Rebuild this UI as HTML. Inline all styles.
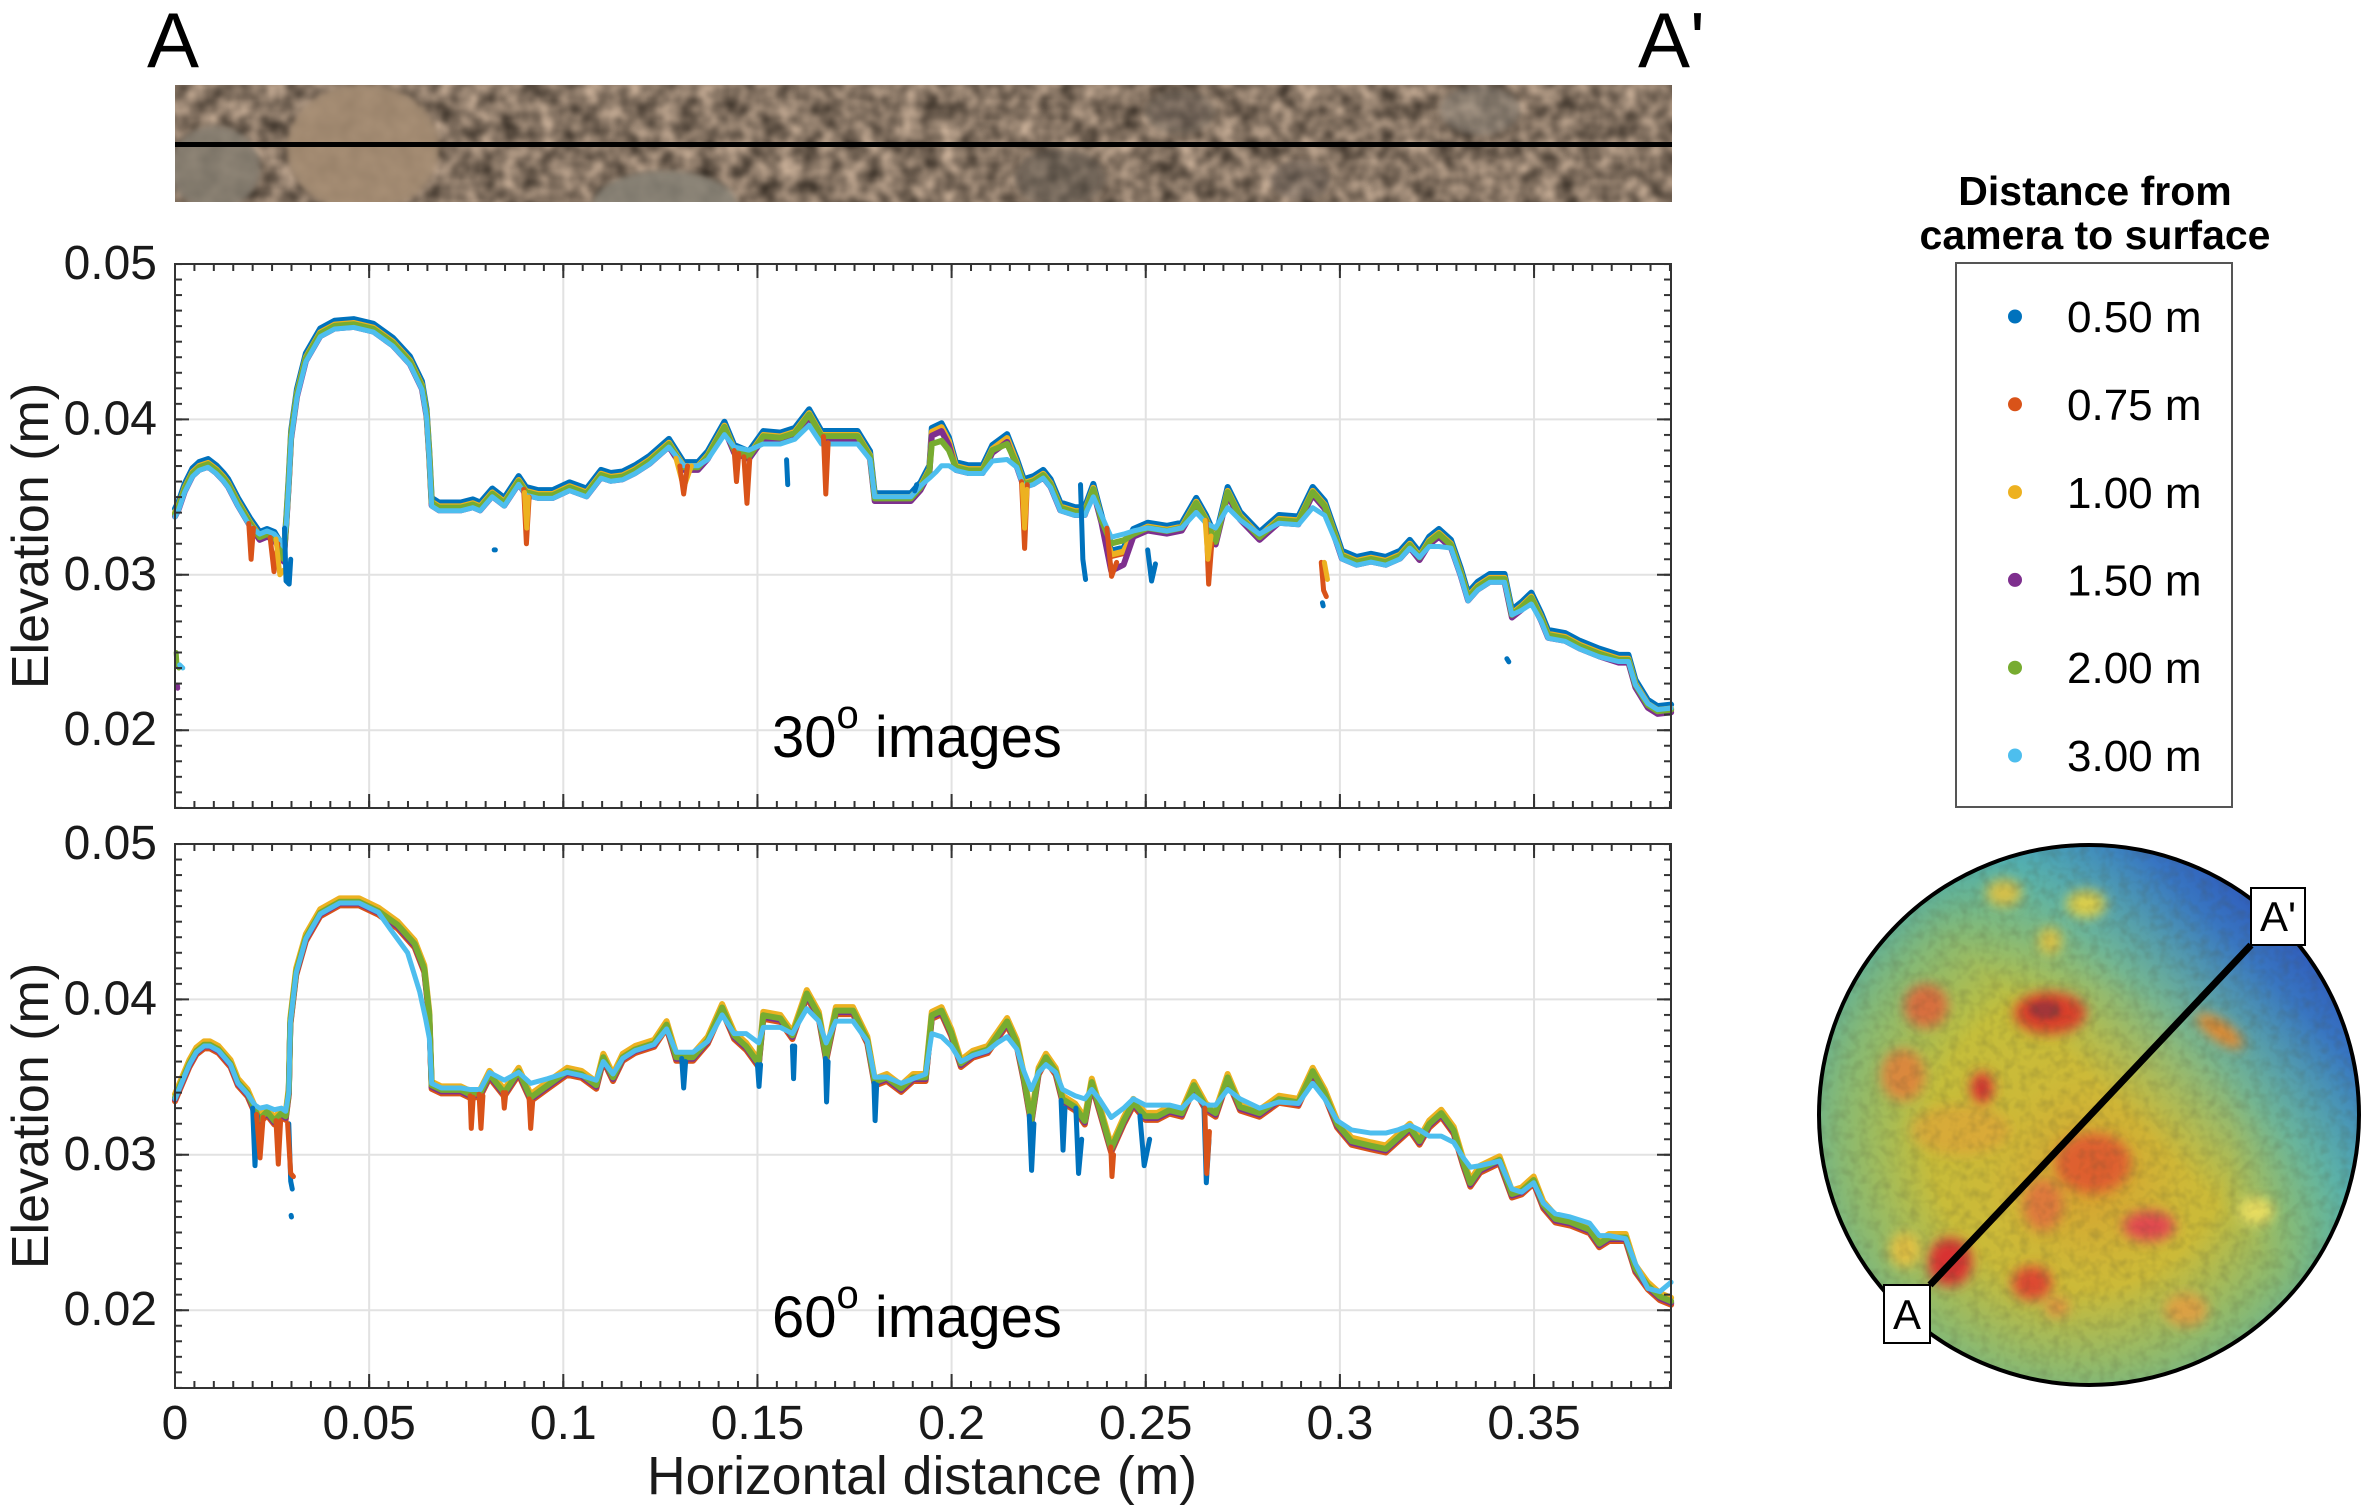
<!DOCTYPE html>
<html><head><meta charset="utf-8"><style>
html,body{margin:0;padding:0;background:#fff;}
body{width:2372px;height:1510px;overflow:hidden;}
svg{display:block;font-family:"Liberation Sans",Arial,sans-serif;}
</style></head><body>
<svg width="2372" height="1510" viewBox="0 0 2372 1510" xmlns="http://www.w3.org/2000/svg">
<defs>
<filter id="pebf" x="0%" y="0%" width="100%" height="100%" color-interpolation-filters="sRGB">
<feTurbulence type="fractalNoise" baseFrequency="0.05" numOctaves="2" seed="7"/>
<feColorMatrix type="matrix" values="0.7 0 0 0 0.17  0.62 0 0 0 0.14  0.55 0 0 0 0.11  0 0 0 0 1"/>
</filter>
<filter id="grain" x="0%" y="0%" width="100%" height="100%" color-interpolation-filters="sRGB">
<feTurbulence type="fractalNoise" baseFrequency="0.1" numOctaves="2" seed="3"/>
<feColorMatrix type="matrix" values="0 0 0 0 0.3  0 0 0 0 0.3  0 0 0 0 0.2  1.2 0 0 0 -0.5"/>
</filter>
<filter id="bl" x="-50%" y="-50%" width="200%" height="200%"><feGaussianBlur stdDeviation="6"/></filter>
<filter id="bl2" x="-50%" y="-50%" width="200%" height="200%"><feGaussianBlur stdDeviation="3"/></filter>
<pattern id="px" x="174" y="0" width="19.415" height="10" patternUnits="userSpaceOnUse"><rect width="2" height="10" fill="#333"/></pattern>
<pattern id="py1" x="0" y="263" width="10" height="15.54" patternUnits="userSpaceOnUse"><rect width="10" height="2" fill="#333"/></pattern>
<pattern id="py2" x="0" y="843" width="10" height="15.54" patternUnits="userSpaceOnUse"><rect width="10" height="2" fill="#333"/></pattern>
<clipPath id="stripc"><rect x="175" y="85" width="1497" height="117"/></clipPath>
<clipPath id="cc"><circle cx="2089" cy="1115" r="270"/></clipPath>
<linearGradient id="gBlue" gradientUnits="userSpaceOnUse" x1="2340" y1="880" x2="2060" y2="1160">
<stop offset="0" stop-color="#2636b0" stop-opacity="1"/>
<stop offset="0.3" stop-color="#3572c4" stop-opacity="0.95"/>
<stop offset="0.55" stop-color="#4ab0c0" stop-opacity="0.6"/>
<stop offset="0.8" stop-color="#60c0a0" stop-opacity="0"/>
</linearGradient>
<radialGradient id="gEdge" gradientUnits="userSpaceOnUse" cx="2080" cy="1140" r="300">
<stop offset="0.5" stop-color="#58b4a0" stop-opacity="0"/>
<stop offset="0.8" stop-color="#58b4a0" stop-opacity="0.55"/>
<stop offset="1" stop-color="#3fa7b5" stop-opacity="0.85"/>
</radialGradient>
<radialGradient id="gCore" gradientUnits="userSpaceOnUse" cx="2090" cy="1180" r="210">
<stop offset="0" stop-color="#e0902a" stop-opacity="0.7"/>
<stop offset="0.5" stop-color="#e0b030" stop-opacity="0.35"/>
<stop offset="1" stop-color="#e0b030" stop-opacity="0"/>
</radialGradient>
</defs>

<rect width="2372" height="1510" fill="#fff"/>

<text x="147" y="67" font-size="78" fill="#000">A</text>
<text x="1638" y="67" font-size="78" fill="#000">A'</text>

<!-- Photo strip -->
<g clip-path="url(#stripc)">
<rect x="175" y="85" width="1497" height="117" fill="#826e5c" filter="url(#pebf)"/>
<g filter="url(#bl2)">
<ellipse cx="215" cy="168" rx="45" ry="42" fill="#857e72" opacity="0.85"/>
<ellipse cx="363" cy="148" rx="76" ry="64" fill="#a48c72" opacity="0.9"/>
<ellipse cx="665" cy="205" rx="72" ry="34" fill="#878277" opacity="0.85"/>
<ellipse cx="1060" cy="178" rx="45" ry="30" fill="#5a524a" opacity="0.5"/>
<ellipse cx="1180" cy="112" rx="35" ry="22" fill="#5f5850" opacity="0.45"/>
<ellipse cx="1480" cy="110" rx="40" ry="25" fill="#868075" opacity="0.5"/>
<ellipse cx="1300" cy="180" rx="30" ry="20" fill="#5d554d" opacity="0.4"/>
</g>
</g>
<line x1="175" y1="144.5" x2="1672" y2="144.5" stroke="#000" stroke-width="5"/>

<!-- ===== TOP PLOT ===== -->
<g stroke="#e2e2e2" stroke-width="2">
<line x1="369.15" y1="264" x2="369.15" y2="808"/><line x1="563.3" y1="264" x2="563.3" y2="808"/>
<line x1="757.45" y1="264" x2="757.45" y2="808"/><line x1="951.6" y1="264" x2="951.6" y2="808"/>
<line x1="1145.75" y1="264" x2="1145.75" y2="808"/><line x1="1339.9" y1="264" x2="1339.9" y2="808"/>
<line x1="1534.05" y1="264" x2="1534.05" y2="808"/>
<line x1="175" y1="419.4" x2="1671" y2="419.4"/><line x1="175" y1="574.8" x2="1671" y2="574.8"/>
<line x1="175" y1="730.2" x2="1671" y2="730.2"/>
</g>

<g transform="translate(175,1041) scale(3.883,-15.54)" fill="none" stroke-linejoin="round" stroke-linecap="round">
<g transform="translate(0,0.35)"><polyline vector-effect="non-scaling-stroke" stroke-width="6" stroke="#0072BD" points="0,33.9 1,34.4 2.5,35.5 4.5,36.5 6.2,36.9 8.5,37.1 10.6,36.7 12.5,36.2 13.7,35.8 16.2,34.6 19.3,33.3 21.8,32.4 23.7,32.6 25.6,32.4 27,31.8 28,31 28.7,33.5 29.3,36 29.9,38.9 31.4,41.6 33.7,43.9 37.4,45.5 41.1,46 46.1,46.1 51.1,45.8 56.1,44.9 60.5,43.7 63.6,42.1 64.8,40.3 65.5,37.6 66.1,34.6 68,34.3 73.6,34.3 76.7,34.5 78.6,34.3 81.7,35.2 84.8,34.6 88.5,36 90.4,35.3 93.5,35.1 97.3,35.1 101.6,35.6 106,35.2 109.7,36.4 112.2,36.2 115.3,36.3 118.5,36.7 122.2,37.3 127.2,38.4 131,36.9 134.7,36.9 137.2,37.6 141.5,39.5 144,38 147.8,37.6 151.5,38.9 155.9,38.8 159.6,39.1 163.3,40.3 166.5,38.9 170.8,38.9 175.8,38.9 179,37.6 180.2,34.9 185.8,34.9 189.5,34.9 192,35.6 194.3,36.7 194.9,39.1 197.4,39.4 199.3,38.5 201.1,36.9 204.3,36.7 208,36.7 210.5,38 214.3,38.7 216.8,37.1 218.6,35.8 221.1,36 223.6,36.4 225.5,35.8 228,34.3 231.8,34 234.3,34 236.5,35.5 238.6,33.5 241.1,31.2 244.3,31.4 246.8,32.6 250.5,33 255.5,32.8 259.3,33 263,34.6 265.5,33.5 268,32.1 271.1,35.3 274.3,33.7 279.3,32.4 284.3,33.5 289.3,33.4 293,35.3 296.1,34.4 299.3,32.1 300.5,31.2 304.3,30.8 308,31 311.8,30.8 315.5,31.2 318,31.9 320.5,31.1 323,32.1 325.5,32.6 328.6,31.9 331.1,30.1 333,28.5 335.5,29.2 338.6,29.7 342.4,29.7 344.3,27.4 346.8,27.9 349.3,28.5 351.8,27.2 353.6,26.1 358,25.9 361.8,25.4 366.8,24.9 371.8,24.5 374.3,24.5 376.1,22.9 379.3,21.6 381.8,21.2 385.3,21.3"/></g>
<g transform="translate(0,0)"><polyline vector-effect="non-scaling-stroke" stroke-width="6" stroke="#D95319" points="0,33.9 1,34.4 2.5,35.5 4.5,36.5 6.2,36.9 8.5,37.1 10.6,36.7 12.5,36.2 13.7,35.8 16.2,34.6 19.3,33.3 21.8,32.4 23.7,32.6 25.6,32.4 27,31.8 28,31 28.7,33.5 29.3,36 29.9,38.9 31.4,41.6 33.7,43.9 37.4,45.5 41.1,46 46.1,46.1 51.1,45.8 56.1,44.9 60.5,43.7 63.6,42.1 64.8,40.3 65.5,37.6 66.1,34.6 68,34.3 73.6,34.3 76.7,34.5 78.6,34.3 81.7,35.2 84.8,34.6 88.5,36 90.4,35.3 93.5,35.1 97.3,35.1 101.6,35.6 106,35.2 109.7,36.4 112.2,36.2 115.3,36.3 118.5,36.7 122.2,37.3 127.2,38.4 131,36.9 134.7,36.9 137.2,37.6 141.5,39.5 144,38 147.8,37.6 151.5,38.9 155.9,38.8 159.6,39.1 163.3,40.3 166.5,38.9 170.8,38.9 175.8,38.9 179,37.6 180.2,34.9 185.8,34.9 189.5,34.9 192,35.6 194.3,36.7 194.9,39.1 197.4,39.4 199.3,38.5 201.1,36.9 204.3,36.7 208,36.7 210.5,38 214.3,38.7 216.8,37.1 218.6,35.8 221.1,36 223.6,36.4 225.5,35.8 228,34.3 231.8,34 234.3,34 236.5,35.5 238.6,33.5 241.1,31.2 244.3,31.4 246.8,32.6 250.5,33 255.5,32.8 259.3,33 263,34.6 265.5,33.5 268,32.1 271.1,35.3 274.3,33.7 279.3,32.4 284.3,33.5 289.3,33.4 293,35.3 296.1,34.4 299.3,32.1 300.5,31.2 304.3,30.8 308,31 311.8,30.8 315.5,31.2 318,31.9 320.5,31.1 323,32.1 325.5,32.6 328.6,31.9 331.1,30.1 333,28.5 335.5,29.2 338.6,29.7 342.4,29.7 344.3,27.4 346.8,27.9 349.3,28.5 351.8,27.2 353.6,26.1 358,25.9 361.8,25.4 366.8,24.9 371.8,24.5 374.3,24.5 376.1,22.9 379.3,21.6 381.8,21.2 385.3,21.3"/></g>
<g transform="translate(0,0.1)"><polyline vector-effect="non-scaling-stroke" stroke-width="6" stroke="#EDB120" points="0,33.9 1,34.4 2.5,35.5 4.5,36.5 6.2,36.9 8.5,37.1 10.6,36.7 12.5,36.2 13.7,35.8 16.2,34.6 19.3,33.3 21.8,32.4 23.7,32.6 25.6,32.4 27,31.8 28,31 28.7,33.5 29.3,36 29.9,38.9 31.4,41.6 33.7,43.9 37.4,45.5 41.1,46 46.1,46.1 51.1,45.8 56.1,44.9 60.5,43.7 63.6,42.1 64.8,40.3 65.5,37.6 66.1,34.6 68,34.3 73.6,34.3 76.7,34.5 78.6,34.3 81.7,35.2 84.8,34.6 88.5,36 90.4,35.3 93.5,35.1 97.3,35.1 101.6,35.6 106,35.2 109.7,36.4 112.2,36.2 115.3,36.3 118.5,36.7 122.2,37.3 127.2,38.4 131,36.9 134.7,36.9 137.2,37.6 141.5,39.5 144,38 147.8,37.6 151.5,38.9 155.9,38.8 159.6,39.1 163.3,40.3 166.5,38.9 170.8,38.9 175.8,38.9 179,37.6 180.2,34.9 185.8,34.9 189.5,34.9 192,35.6 194.3,36.7 194.9,39.1 197.4,39.4 199.3,38.5 201.1,36.9 204.3,36.7 208,36.7 210.5,38 214.3,38.7 216.8,37.1 218.6,35.8 221.1,36 223.6,36.4 225.5,35.8 228,34.3 231.8,34 234.3,34 236.5,35.5 238.6,33.5 241.1,31.2 244.3,31.4 246.8,32.6 250.5,33 255.5,32.8 259.3,33 263,34.6 265.5,33.5 268,32.1 271.1,35.3 274.3,33.7 279.3,32.4 284.3,33.5 289.3,33.4 293,35.3 296.1,34.4 299.3,32.1 300.5,31.2 304.3,30.8 308,31 311.8,30.8 315.5,31.2 318,31.9 320.5,31.1 323,32.1 325.5,32.6 328.6,31.9 331.1,30.1 333,28.5 335.5,29.2 338.6,29.7 342.4,29.7 344.3,27.4 346.8,27.9 349.3,28.5 351.8,27.2 353.6,26.1 358,25.9 361.8,25.4 366.8,24.9 371.8,24.5 374.3,24.5 376.1,22.9 379.3,21.6 381.8,21.2 385.3,21.3"/></g>
<g transform="translate(0,-0.15)"><polyline vector-effect="non-scaling-stroke" stroke-width="6" stroke="#7E2F8E" points="0,33.9 1,34.4 2.5,35.5 4.5,36.5 6.2,36.9 8.5,37.1 10.6,36.7 12.5,36.2 13.7,35.8 16.2,34.6 19.3,33.3 21.8,32.4 23.7,32.6 25.6,32.4 27,31.8 28,31 28.7,33.5 29.3,36 29.9,38.9 31.4,41.6 33.7,43.9 37.4,45.5 41.1,46 46.1,46.1 51.1,45.8 56.1,44.9 60.5,43.7 63.6,42.1 64.8,40.3 65.5,37.6 66.1,34.6 68,34.3 73.6,34.3 76.7,34.5 78.6,34.3 81.7,35.2 84.8,34.6 88.5,36 90.4,35.3 93.5,35.1 97.3,35.1 101.6,35.6 106,35.2 109.7,36.4 112.2,36.2 115.3,36.3 118.5,36.7 122.2,37.3 127.2,38.4 131,36.9 134.7,36.9 137.2,37.6 141.5,39.5 144,38 147.8,37.6 151.5,38.9 155.9,38.8 159.6,39.1 163.3,40.3 166.5,38.9 170.8,38.9 175.8,38.9 179,37.6 180.2,34.9 185.8,34.9 189.5,34.9 192,35.6 194.3,36.7 194.9,39.1 197.4,39.4 199.3,38.5 201.1,36.9 204.3,36.7 208,36.7 210.5,38 214.3,38.7 216.8,37.1 218.6,35.8 221.1,36 223.6,36.4 225.5,35.8 228,34.3 231.8,34 234.3,34 236.5,35.5 238.6,33.5 241.1,30.4 244.3,30.8 246.8,32.6 250.5,33 255.5,32.8 259.3,33 263,34.6 265.5,33.5 268,32.1 271.1,35.3 274.3,33.7 279.3,32.4 284.3,33.5 289.3,33.4 293,35.3 296.1,34.4 299.3,32.1 300.5,31.2 304.3,30.8 308,31 311.8,30.8 315.5,31.2 318,31.9 320.5,31.1 323,32.1 325.5,32.6 328.6,31.9 331.1,30.1 333,28.5 335.5,29.2 338.6,29.7 342.4,29.7 344.3,27.4 346.8,27.9 349.3,28.5 351.8,27.2 353.6,26.1 358,25.9 361.8,25.4 366.8,24.9 371.8,24.5 374.3,24.5 376.1,22.9 379.3,21.6 381.8,21.2 385.3,21.3"/></g>
<g transform="translate(0,0.02)"><polyline vector-effect="non-scaling-stroke" stroke-width="6" stroke="#77AC30" points="0,33.9 1,34.4 2.5,35.5 4.5,36.5 6.2,36.9 8.5,37.1 10.6,36.7 12.5,36.2 13.7,35.8 16.2,34.6 19.3,33.3 21.8,32.4 23.7,32.6 25.6,32.4 27,31.8 28,31 28.7,33.5 29.3,36 29.9,38.9 31.4,41.6 33.7,43.9 37.4,45.5 41.1,46 46.1,46.1 51.1,45.8 56.1,44.9 60.5,43.7 63.6,42.1 64.8,40.3 65.5,37.6 66.1,34.6 68,34.3 73.6,34.3 76.7,34.5 78.6,34.3 81.7,35.2 84.8,34.6 88.5,36 90.4,35.3 93.5,35.1 97.3,35.1 101.6,35.6 106,35.2 109.7,36.4 112.2,36.2 115.3,36.3 118.5,36.7 122.2,37.3 127.2,38.4 131,36.9 134.7,36.9 137.2,37.6 141.5,39.5 144,38 147.8,37.6 151.5,38.9 155.9,38.8 159.6,39.1 163.3,40.3 166.5,38.9 170.8,38.9 175.8,38.9 179,37.6 180.2,34.9 185.8,34.9 189.5,34.9 192,35.6 194.3,36.7 194.9,38.4 197.4,38.6 199.3,38 201.1,36.9 204.3,36.7 208,36.7 210.5,38 214.3,38.4 216.8,37.1 218.6,35.8 221.1,36 223.6,36.4 225.5,35.8 228,34.3 231.8,34 234.3,34 236.5,35.5 238.6,33.5 241.1,32 244.3,32.2 246.8,32.6 250.5,33 255.5,32.8 259.3,33 263,34.6 265.5,33.5 268,32.1 271.1,35.3 274.3,33.7 279.3,32.4 284.3,33.5 289.3,33.4 293,35.3 296.1,34.4 299.3,32.1 300.5,31.2 304.3,30.8 308,31 311.8,30.8 315.5,31.2 318,31.9 320.5,31.1 323,32.1 325.5,32.6 328.6,31.9 331.1,30.1 333,28.5 335.5,29.2 338.6,29.7 342.4,29.7 344.3,27.4 346.8,27.9 349.3,28.5 351.8,27.2 353.6,26.1 358,25.9 361.8,25.4 366.8,24.9 371.8,24.5 374.3,24.5 376.1,22.9 379.3,21.6 381.8,21.2 385.3,21.3"/></g>
<g transform="translate(0,-0.18)"><polyline vector-effect="non-scaling-stroke" stroke-width="5" stroke="#4DBEEE" points="0,33.9 1,34.4 2.5,35.5 4.5,36.5 6.2,36.9 8.5,37.1 10.6,36.7 12.5,36.2 13.7,35.8 16.2,34.6 19.3,33.3 21.8,32.8 23.7,33 25.6,32.8 27,32.4 28,32 28.7,33.5 29.3,36 29.9,38.9 31.4,41.6 33.7,43.9 37.4,45.5 41.1,46 46.1,46.1 51.1,45.8 56.1,44.9 60.5,43.7 63.6,42.1 64.8,40.3 65.5,37.6 66.1,34.6 68,34.3 73.6,34.3 76.7,34.5 78.6,34.3 81.7,35.2 84.8,34.6 88.5,36 90.4,35.3 93.5,35.1 97.3,35.1 101.6,35.6 106,35.2 109.7,36.4 112.2,36.2 115.3,36.3 118.5,36.7 122.2,37.3 127.2,38.4 131,37.2 134.7,37.2 137.2,37.6 141.5,39.2 144,38.4 147.8,38.2 151.5,38.6 155.9,38.6 159.6,38.9 163.3,39.8 166.5,38.6 170.8,38.6 175.8,38.6 179,37.6 180.2,35.2 185.8,35.2 189.5,35.2 192,35.9 194.3,36.4 196,36.8 197.4,37.2 199.3,37.2 201.1,36.9 204.3,36.7 208,36.7 210.5,37.5 214.3,37.6 216.8,37.1 218.6,35.8 221.1,36 223.6,36.4 225.5,35.8 228,34.3 231.8,34 234.3,34 236.5,35.2 238.6,34 241.1,32.6 244.3,32.8 246.8,33 250.5,33.2 255.5,33 259.3,33.2 263,34.2 265.5,33.5 268,33.2 271.1,34.5 274.3,33.7 279.3,32.8 284.3,33.5 289.3,33.4 293,34.5 296.1,34 299.3,32.1 300.5,31.2 304.3,30.8 308,31 311.8,30.8 315.5,31.2 318,31.9 320.5,31.3 323,32 325.5,32 328.6,31.9 331.1,30.1 333,28.5 335.5,29.2 338.6,29.7 342.4,29.7 344.3,27.6 346.8,27.9 349.3,28.3 351.8,27.2 353.6,26.1 358,25.9 361.8,25.4 366.8,24.9 371.8,24.6 374.3,24.6 376.1,23.1 379.3,21.9 381.8,21.5 385.3,21.6"/></g>
<g stroke-width="5">
<polyline vector-effect="non-scaling-stroke" stroke="#D95319" points="19,33.3 19.6,31 20.2,33"/>
<polyline vector-effect="non-scaling-stroke" stroke="#D95319" points="24.5,32.4 25.5,30.2 26.5,32"/>
<polyline vector-effect="non-scaling-stroke" stroke="#EDB120" points="26,32.3 27,30 28,30.3"/>
<polyline vector-effect="non-scaling-stroke" stroke="#0072BD" points="28.2,33 28.6,29.6 29.4,29.4 29.8,31"/>
<polyline vector-effect="non-scaling-stroke" stroke="#D95319" points="89.8,35.5 90.5,32 91.2,35"/>
<polyline vector-effect="non-scaling-stroke" stroke="#EDB120" points="90,35.3 90.6,33 91,35"/>
<polyline vector-effect="non-scaling-stroke" stroke="#0072BD" points="82.2,31.6 82.5,31.6"/>
<polyline vector-effect="non-scaling-stroke" stroke="#EDB120" points="129,37.5 131,35.6 133,37"/>
<polyline vector-effect="non-scaling-stroke" stroke="#D95319" points="130,37 131,35.2 132,37"/>
<polyline vector-effect="non-scaling-stroke" stroke="#D95319" points="144,38 144.6,36 145.2,37.8"/>
<polyline vector-effect="non-scaling-stroke" stroke="#D95319" points="146.5,37.6 147.3,34.6 148,37.4"/>
<polyline vector-effect="non-scaling-stroke" stroke="#0072BD" points="157.5,37.4 157.8,35.8"/>
<polyline vector-effect="non-scaling-stroke" stroke="#D95319" points="167,38.9 167.6,35.2 168.2,38.5"/>
<polyline vector-effect="non-scaling-stroke" stroke="#0072BD" points="190.5,35.4 191,35.8"/>
<polyline vector-effect="non-scaling-stroke" stroke="#D95319" points="218,36 218.8,31.7 219.5,35.8"/>
<polyline vector-effect="non-scaling-stroke" stroke="#EDB120" points="218.2,35.8 218.8,33 219.4,35.5"/>
<polyline vector-effect="non-scaling-stroke" stroke="#0072BD" points="233.2,35.8 233.8,31 234.5,29.7"/>
<polyline vector-effect="non-scaling-stroke" stroke="#D95319" points="240,33 241.2,29.9 242.5,30.8"/>
<polyline vector-effect="non-scaling-stroke" stroke="#0072BD" points="250.5,31.6 251.5,29.6 252.5,30.7"/>
<polyline vector-effect="non-scaling-stroke" stroke="#D95319" points="265.5,33.5 266.2,29.4 267,32"/>
<polyline vector-effect="non-scaling-stroke" stroke="#EDB120" points="265.3,33.5 266,31 266.8,32.5"/>
<polyline vector-effect="non-scaling-stroke" stroke="#D95319" points="295.2,30.8 295.8,29 296.5,28.6"/>
<polyline vector-effect="non-scaling-stroke" stroke="#EDB120" points="296,30.8 296.8,29.7"/>
<polyline vector-effect="non-scaling-stroke" stroke="#0072BD" points="295.5,28.2 295.7,28"/>
<polyline vector-effect="non-scaling-stroke" stroke="#0072BD" points="343,24.6 343.5,24.4"/>
<polyline vector-effect="non-scaling-stroke" stroke="#77AC30" points="0.3,25 0.5,24.3 1,24"/>
<polyline vector-effect="non-scaling-stroke" stroke="#4DBEEE" points="1.2,24.2 2,24"/>
<polyline vector-effect="non-scaling-stroke" stroke="#7E2F8E" points="0.6,22.9 0.7,22.7"/>
</g>
</g>

<rect x="175" y="264" width="1496" height="544" fill="none" stroke="#333" stroke-width="2"/>
<rect x="175" y="264" width="1496" height="7" fill="url(#px)"/>
<rect x="175" y="801" width="1496" height="7" fill="url(#px)"/>
<rect x="175" y="264" width="7" height="544" fill="url(#py1)"/>
<rect x="1664" y="264" width="7" height="544" fill="url(#py1)"/>
<g stroke="#333" stroke-width="2">
<path d="M369.15 264v14M563.3 264v14M757.45 264v14M951.6 264v14M1145.75 264v14M1339.9 264v14M1534.05 264v14"/>
<path d="M369.15 808v-14M563.3 808v-14M757.45 808v-14M951.6 808v-14M1145.75 808v-14M1339.9 808v-14M1534.05 808v-14"/>
<path d="M175 419.4h14M175 574.8h14M175 730.2h14M1671 419.4h-14M1671 574.8h-14M1671 730.2h-14"/>
</g>
<g font-size="48" fill="#1a1a1a" text-anchor="end">
<text x="157" y="279">0.05</text>
<text x="157" y="434.4">0.04</text>
<text x="157" y="589.8">0.03</text>
<text x="157" y="745.2">0.02</text>
</g>
<text transform="translate(48,536) rotate(-90)" text-anchor="middle" font-size="52" fill="#1a1a1a">Elevation (m)</text>
<text x="772" y="757" font-size="58" fill="#000">30<tspan font-size="40" dy="-29">o</tspan><tspan dy="29"> images</tspan></text>

<!-- ===== BOTTOM PLOT ===== -->
<g stroke="#e2e2e2" stroke-width="2">
<line x1="369.15" y1="844" x2="369.15" y2="1388"/><line x1="563.3" y1="844" x2="563.3" y2="1388"/>
<line x1="757.45" y1="844" x2="757.45" y2="1388"/><line x1="951.6" y1="844" x2="951.6" y2="1388"/>
<line x1="1145.75" y1="844" x2="1145.75" y2="1388"/><line x1="1339.9" y1="844" x2="1339.9" y2="1388"/>
<line x1="1534.05" y1="844" x2="1534.05" y2="1388"/>
<line x1="175" y1="999.4" x2="1671" y2="999.4"/><line x1="175" y1="1154.8" x2="1671" y2="1154.8"/>
<line x1="175" y1="1310.2" x2="1671" y2="1310.2"/>
</g>

<g transform="translate(175,1621) scale(3.883,-15.54)" fill="none" stroke-linejoin="round" stroke-linecap="round">
<g transform="translate(0,-0.05)"><polyline vector-effect="non-scaling-stroke" stroke-width="6" stroke="#0072BD" points="0,33.6 1,34.2 3.7,35.8 5.5,36.6 7.5,37 9,37 11.2,36.7 14.3,35.8 16.2,34.6 18.7,33.9 20.6,32.8 21.8,32.2 23.7,32.7 25.6,32.1 27.4,32.6 28.5,32.4 29.3,34 29.7,38.5 31.2,41.7 33.7,43.9 37.4,45.5 42.4,46.2 47.4,46.2 52.4,45.6 57.4,44.7 61.7,43.5 64.2,41.9 65.5,38.9 66.1,34.4 68.6,34.1 73.6,34.1 76.1,33.8 78.6,33.9 81,35.1 84.8,33.9 88.5,35.3 91.6,33.6 96,34.4 101,35.3 104.7,35.1 108.5,34.4 110.3,36.2 112.8,34.9 115.3,36.2 118.5,36.7 123.4,37.1 126.6,38.3 129.1,36.2 133.4,36.2 137.2,37.3 140.9,39.4 144,37.6 147.1,36.9 150.3,35.8 151.5,38.9 155.9,38.7 159,37.6 162.7,40.3 165.8,38.9 167.7,36.2 170.2,39.2 174.6,39.2 178.3,37.3 180.2,34.6 183.3,34.9 187,34.2 190.1,34.9 193.3,34.9 194.9,38.9 197.4,39.2 199.9,37.8 202.4,35.8 205.5,36.4 209.3,36.7 211.8,37.6 214.3,38.5 216.8,37.1 218.6,34.9 220.5,32.1 222.4,35.3 224.3,36.2 226.8,35.3 228.6,33.5 231.8,33 234.3,32.1 236.1,34.6 238,33 241.1,30.3 244.3,32.1 246.8,33.3 249.9,32.4 253,32.4 256.1,32.8 259.3,32.6 262.4,34.4 265.5,33 268,32.6 271.1,34.9 274.3,33 279.3,32.6 284.3,33.5 289.3,33.3 293,35.3 296.1,33.9 299.3,31.9 303,30.8 308,30.5 311.8,30.3 314.9,31 318,31.7 320.5,30.8 323,31.9 326.1,32.6 329.3,31.5 331.8,29.4 333.6,28.1 336.1,29 341.1,29.6 344.3,27.4 346.8,27.6 349.9,28.3 352.4,26.7 355.5,25.8 359.3,25.6 364.3,25.1 366.8,24.2 369.3,24.6 373.6,24.6 376.1,22.6 379.3,21.5 382.4,20.8 385.3,20.5"/></g>
<g transform="translate(0,-0.15)"><polyline vector-effect="non-scaling-stroke" stroke-width="6" stroke="#D95319" points="0,33.6 1,34.2 3.7,35.8 5.5,36.6 7.5,37 9,37 11.2,36.7 14.3,35.8 16.2,34.6 18.7,33.9 20.6,32.8 21.8,32.2 23.7,32.7 25.6,32.1 27.4,32.6 28.5,32.4 29.3,34 29.7,38.5 31.2,41.7 33.7,43.9 37.4,45.5 42.4,46.2 47.4,46.2 52.4,45.6 57.4,44.7 61.7,43.5 64.2,41.9 65.5,38.9 66.1,34.4 68.6,34.1 73.6,34.1 76.1,33.8 78.6,33.9 81,35.1 84.8,33.9 88.5,35.3 91.6,33.6 96,34.4 101,35.3 104.7,35.1 108.5,34.4 110.3,36.2 112.8,34.9 115.3,36.2 118.5,36.7 123.4,37.1 126.6,38.3 129.1,36.2 133.4,36.2 137.2,37.3 140.9,39.4 144,37.6 147.1,36.9 150.3,35.8 151.5,38.9 155.9,38.7 159,37.6 162.7,40.3 165.8,38.9 167.7,36.2 170.2,39.2 174.6,39.2 178.3,37.3 180.2,34.6 183.3,34.9 187,34.2 190.1,34.9 193.3,34.9 194.9,38.9 197.4,39.2 199.9,37.8 202.4,35.8 205.5,36.4 209.3,36.7 211.8,37.6 214.3,38.5 216.8,37.1 218.6,34.9 220.5,32.1 222.4,35.3 224.3,36.2 226.8,35.3 228.6,33.5 231.8,33 234.3,32.1 236.1,34.6 238,33 241.1,30.3 244.3,32.1 246.8,33.3 249.9,32.4 253,32.4 256.1,32.8 259.3,32.6 262.4,34.4 265.5,33 268,32.6 271.1,34.9 274.3,33 279.3,32.6 284.3,33.5 289.3,33.3 293,35.3 296.1,33.9 299.3,31.9 303,30.8 308,30.5 311.8,30.3 314.9,31 318,31.7 320.5,30.8 323,31.9 326.1,32.6 329.3,31.5 331.8,29.4 333.6,28.1 336.1,29 341.1,29.6 344.3,27.4 346.8,27.6 349.9,28.3 352.4,26.7 355.5,25.8 359.3,25.6 364.3,25.1 366.8,24.2 369.3,24.6 373.6,24.6 376.1,22.6 379.3,21.5 382.4,20.8 385.3,20.5"/></g>
<g transform="translate(0,0.3)"><polyline vector-effect="non-scaling-stroke" stroke-width="6" stroke="#EDB120" points="0,33.6 1,34.2 3.7,35.8 5.5,36.6 7.5,37 9,37 11.2,36.7 14.3,35.8 16.2,34.6 18.7,33.9 20.6,32.8 21.8,32.2 23.7,32.7 25.6,32.1 27.4,32.6 28.5,32.4 29.3,34 29.7,38.5 31.2,41.7 33.7,43.9 37.4,45.5 42.4,46.2 47.4,46.2 52.4,45.6 57.4,44.7 61.7,43.5 64.2,41.9 65.5,38.9 66.1,34.4 68.6,34.1 73.6,34.1 76.1,33.8 78.6,33.9 81,35.1 84.8,33.9 88.5,35.3 91.6,33.6 96,34.4 101,35.3 104.7,35.1 108.5,34.4 110.3,36.2 112.8,34.9 115.3,36.2 118.5,36.7 123.4,37.1 126.6,38.3 129.1,36.2 133.4,36.2 137.2,37.3 140.9,39.4 144,37.6 147.1,36.9 150.3,35.8 151.5,38.9 155.9,38.7 159,37.6 162.7,40.3 165.8,38.9 167.7,36.2 170.2,39.2 174.6,39.2 178.3,37.3 180.2,34.6 183.3,34.9 187,34.2 190.1,34.9 193.3,34.9 194.9,38.9 197.4,39.2 199.9,37.8 202.4,35.8 205.5,36.4 209.3,36.7 211.8,37.6 214.3,38.5 216.8,37.1 218.6,34.9 220.5,32.1 222.4,35.3 224.3,36.2 226.8,35.3 228.6,33.5 231.8,33 234.3,32.1 236.1,34.6 238,33 241.1,30.3 244.3,32.1 246.8,33.3 249.9,32.4 253,32.4 256.1,32.8 259.3,32.6 262.4,34.4 265.5,33 268,32.6 271.1,34.9 274.3,33 279.3,32.6 284.3,33.5 289.3,33.3 293,35.3 296.1,33.9 299.3,31.9 303,30.8 308,30.5 311.8,30.3 314.9,31 318,31.7 320.5,30.8 323,31.9 326.1,32.6 329.3,31.5 331.8,29.4 333.6,28.1 336.1,29 341.1,29.6 344.3,27.4 346.8,27.6 349.9,28.3 352.4,26.7 355.5,25.8 359.3,25.6 364.3,25.1 366.8,24.2 369.3,24.6 373.6,24.6 376.1,22.6 379.3,21.5 382.4,20.8 385.3,20.5"/></g>
<g transform="translate(0,-0.02)"><polyline vector-effect="non-scaling-stroke" stroke-width="6" stroke="#7E2F8E" points="0,33.6 1,34.2 3.7,35.8 5.5,36.6 7.5,37 9,37 11.2,36.7 14.3,35.8 16.2,34.6 18.7,33.9 20.6,32.8 21.8,32.2 23.7,32.7 25.6,32.1 27.4,32.6 28.5,32.4 29.3,34 29.7,38.5 31.2,41.7 33.7,43.9 37.4,45.5 42.4,46.2 47.4,46.2 52.4,45.6 57.4,44.7 61.7,43.5 64.2,41.9 65.5,38.9 66.1,34.4 68.6,34.1 73.6,34.1 76.1,33.8 78.6,33.9 81,35.1 84.8,33.9 88.5,35.3 91.6,33.6 96,34.4 101,35.3 104.7,35.1 108.5,34.4 110.3,36.2 112.8,34.9 115.3,36.2 118.5,36.7 123.4,37.1 126.6,38.3 129.1,36.2 133.4,36.2 137.2,37.3 140.9,39.4 144,37.6 147.1,36.9 150.3,35.8 151.5,38.9 155.9,38.7 159,37.6 162.7,40.3 165.8,38.9 167.7,36.2 170.2,39.2 174.6,39.2 178.3,37.3 180.2,34.6 183.3,34.9 187,34.2 190.1,34.9 193.3,34.9 194.9,38.9 197.4,39.2 199.9,37.8 202.4,35.8 205.5,36.4 209.3,36.7 211.8,37.6 214.3,38.5 216.8,37.1 218.6,34.9 220.5,32.1 222.4,35.3 224.3,36.2 226.8,35.3 228.6,33.5 231.8,33 234.3,32.1 236.1,34.6 238,33 241.1,30.3 244.3,32.1 246.8,33.3 249.9,32.4 253,32.4 256.1,32.8 259.3,32.6 262.4,34.4 265.5,33 268,32.6 271.1,34.9 274.3,33 279.3,32.6 284.3,33.5 289.3,33.3 293,35.3 296.1,33.9 299.3,31.9 303,30.8 308,30.5 311.8,30.3 314.9,31 318,31.7 320.5,30.8 323,31.9 326.1,32.6 329.3,31.5 331.8,29.4 333.6,28.1 336.1,29 341.1,29.6 344.3,27.4 346.8,27.6 349.9,28.3 352.4,26.7 355.5,25.8 359.3,25.6 364.3,25.1 366.8,24.2 369.3,24.6 373.6,24.6 376.1,22.6 379.3,21.5 382.4,20.8 385.3,20.5"/></g>
<g transform="translate(0,0.08)"><polyline vector-effect="non-scaling-stroke" stroke-width="6" stroke="#77AC30" points="0,33.6 1,34.2 3.7,35.8 5.5,36.6 7.5,37 9,37 11.2,36.7 14.3,35.8 16.2,34.6 18.7,33.9 20.6,32.8 21.8,32.2 23.7,32.7 25.6,32.1 27.4,32.6 28.5,32.4 29.3,34 29.7,38.5 31.2,41.7 33.7,43.9 37.4,45.5 42.4,46.2 47.4,46.2 52.4,45.6 57.4,44.7 61.7,43.5 64.2,41.9 65.5,38.9 66.1,34.4 68.6,34.1 73.6,34.1 76.1,33.8 78.6,33.9 81,35.1 84.8,33.9 88.5,35.3 91.6,33.6 96,34.4 101,35.3 104.7,35.1 108.5,34.4 110.3,36.2 112.8,34.9 115.3,36.2 118.5,36.7 123.4,37.1 126.6,38.3 129.1,36.2 133.4,36.2 137.2,37.3 140.9,39.4 144,37.6 147.1,36.9 150.3,35.8 151.5,38.9 155.9,38.7 159,37.6 162.7,40.3 165.8,38.9 167.7,36.2 170.2,39.2 174.6,39.2 178.3,37.3 180.2,34.6 183.3,34.9 187,34.2 190.1,34.9 193.3,34.9 194.9,38.9 197.4,39.2 199.9,37.8 202.4,35.8 205.5,36.4 209.3,36.7 211.8,37.6 214.3,38.5 216.8,37.1 218.6,34.9 220.5,32.1 222.4,35.3 224.3,36.2 226.8,35.3 228.6,33.5 231.8,33 234.3,32.1 236.1,34.6 238,33 241.1,30.3 244.3,32.1 246.8,33.3 249.9,32.4 253,32.4 256.1,32.8 259.3,32.6 262.4,34.4 265.5,33 268,32.6 271.1,34.9 274.3,33 279.3,32.6 284.3,33.5 289.3,33.3 293,35.3 296.1,33.9 299.3,31.9 303,30.8 308,30.5 311.8,30.3 314.9,31 318,31.7 320.5,30.8 323,31.9 326.1,32.6 329.3,31.5 331.8,29.4 333.6,28.1 336.1,29 341.1,29.6 344.3,27.4 346.8,27.6 349.9,28.3 352.4,26.7 355.5,25.8 359.3,25.6 364.3,25.1 366.8,24.2 369.3,24.6 373.6,24.6 376.1,22.6 379.3,21.5 382.4,20.8 385.3,20.5"/></g>
<g transform="translate(0,0)"><polyline vector-effect="non-scaling-stroke" stroke-width="5" stroke="#4DBEEE" points="0,33.6 1,34.2 3.7,35.8 5.5,36.6 7.5,37 9,37 11.2,36.7 14.3,35.8 16.2,34.6 18.7,33.9 20.6,33.2 21.8,33 23.7,33.1 25.6,32.9 27.4,33 28.5,32.8 29.3,34 29.7,38.5 31.2,41.7 33.7,43.9 37.4,45.5 42.4,46.2 47.4,46.2 52.4,45.6 55.5,44.5 59.9,43 63,40.5 64.5,38.8 65.5,37.5 66.1,34.6 68.6,34.3 73.6,34.3 76.1,34.2 78.6,34.2 81,35.3 84.8,34.8 88.5,35.3 91.6,34.6 96,34.9 101,35.3 104.7,35.1 108.5,34.8 110.3,36 112.8,35.2 115.3,36.2 118.5,36.7 123.4,37.1 126.6,38.1 129.1,36.6 133.4,36.6 137.2,37.3 140.9,39 144,37.8 147.1,37.8 150.3,37.2 151.5,38.2 155.9,38.2 159,37.8 162.7,39.4 165.8,38.6 167.7,37.2 170.2,38.6 174.6,38.6 178.3,37.3 180.2,35 183.3,35 187,34.6 190.1,34.9 193.3,35.2 194.9,37.8 197.4,37.6 199.9,37 202.4,36 205.5,36.4 209.3,36.7 211.8,37.2 214.3,37.6 216.8,36.8 218.6,35.4 220.5,34.2 222.4,35.3 224.3,35.8 226.8,35.3 228.6,34.2 231.8,33.8 234.3,33.6 236.1,34.2 238,33.6 241.1,32.4 244.3,33 246.8,33.6 249.9,33.2 253,33.2 256.1,33.2 259.3,33 262.4,33.8 265.5,33.2 268,33.2 271.1,34.2 274.3,33.6 279.3,33 284.3,33.4 289.3,33.3 293,34.6 296.1,33.6 299.3,32.2 303,31.6 308,31.4 311.8,31.4 314.9,31.6 318,31.9 320.5,31.6 323,31.2 326.1,31.2 329.3,30.8 331.8,29.8 333.6,29.2 336.1,29.3 341.1,29.6 344.3,27.8 346.8,27.6 349.9,28.2 352.4,26.9 355.5,26.2 359.3,26 364.3,25.6 366.8,24.8 369.3,24.8 373.6,24.6 376.1,23 379.3,21.4 382.4,21.2 385.3,21.8"/></g>
<g stroke-width="5">
<polyline vector-effect="non-scaling-stroke" stroke="#0072BD" points="20,33 20.6,29.3 21.2,32.5"/>
<polyline vector-effect="non-scaling-stroke" stroke="#D95319" points="21,32.6 21.9,29.8 22.7,32.4"/>
<polyline vector-effect="non-scaling-stroke" stroke="#D95319" points="26,32.2 26.6,29.4 27.2,32.2"/>
<polyline vector-effect="non-scaling-stroke" stroke="#0072BD" points="29.3,32 29.8,28.3 30.2,27.8"/>
<polyline vector-effect="non-scaling-stroke" stroke="#D95319" points="29,32 29.8,28.8 30.5,28.6"/>
<polyline vector-effect="non-scaling-stroke" stroke="#0072BD" points="29.9,26.1 30,26"/>
<polyline vector-effect="non-scaling-stroke" stroke="#D95319" points="76,33.8 76.3,31.7 76.8,33.7"/>
<polyline vector-effect="non-scaling-stroke" stroke="#D95319" points="78.3,33.9 78.8,31.7 79.3,33.8"/>
<polyline vector-effect="non-scaling-stroke" stroke="#D95319" points="91.2,33.6 91.6,31.7 92.1,33.4"/>
<polyline vector-effect="non-scaling-stroke" stroke="#D95319" points="84.5,34 84.8,33 85.2,34"/>
<polyline vector-effect="non-scaling-stroke" stroke="#0072BD" points="130.5,36.2 131,34.3 131.5,36"/>
<polyline vector-effect="non-scaling-stroke" stroke="#0072BD" points="150,35.8 150.4,34.4 150.8,35.8"/>
<polyline vector-effect="non-scaling-stroke" stroke="#0072BD" points="159,37 159.3,34.9 159.6,37"/>
<polyline vector-effect="non-scaling-stroke" stroke="#0072BD" points="167.5,36.2 167.8,33.4 168.2,36"/>
<polyline vector-effect="non-scaling-stroke" stroke="#0072BD" points="180,34.6 180.3,32.2 180.7,34.5"/>
<polyline vector-effect="non-scaling-stroke" stroke="#0072BD" points="220,32.5 220.6,29 221.2,32"/>
<polyline vector-effect="non-scaling-stroke" stroke="#0072BD" points="228.2,33.5 228.7,30.3 229.2,33"/>
<polyline vector-effect="non-scaling-stroke" stroke="#0072BD" points="232,33 232.7,28.8 233.5,31"/>
<polyline vector-effect="non-scaling-stroke" stroke="#D95319" points="241,30.5 241.3,28.6 241.7,30"/>
<polyline vector-effect="non-scaling-stroke" stroke="#0072BD" points="248.5,32.5 249.6,29.3 251,31"/>
<polyline vector-effect="non-scaling-stroke" stroke="#0072BD" points="265,33 265.6,28.2 266.3,31"/>
<polyline vector-effect="non-scaling-stroke" stroke="#D95319" points="265.2,33 265.7,28.8 266.4,31.5"/>
</g>
</g>

<rect x="175" y="844" width="1496" height="544" fill="none" stroke="#333" stroke-width="2"/>
<rect x="175" y="844" width="1496" height="7" fill="url(#px)"/>
<rect x="175" y="1381" width="1496" height="7" fill="url(#px)"/>
<rect x="175" y="844" width="7" height="544" fill="url(#py2)"/>
<rect x="1664" y="844" width="7" height="544" fill="url(#py2)"/>
<g stroke="#333" stroke-width="2">
<path d="M369.15 844v14M563.3 844v14M757.45 844v14M951.6 844v14M1145.75 844v14M1339.9 844v14M1534.05 844v14"/>
<path d="M369.15 1388v-14M563.3 1388v-14M757.45 1388v-14M951.6 1388v-14M1145.75 1388v-14M1339.9 1388v-14M1534.05 1388v-14"/>
<path d="M175 999.4h14M175 1154.8h14M175 1310.2h14M1671 999.4h-14M1671 1154.8h-14M1671 1310.2h-14"/>
</g>
<g font-size="48" fill="#1a1a1a" text-anchor="end">
<text x="157" y="859">0.05</text>
<text x="157" y="1014.4">0.04</text>
<text x="157" y="1169.8">0.03</text>
<text x="157" y="1325.2">0.02</text>
</g>
<g font-size="48" fill="#1a1a1a" text-anchor="middle">
<text x="175" y="1439">0</text>
<text x="369.15" y="1439">0.05</text>
<text x="563.3" y="1439">0.1</text>
<text x="757.45" y="1439">0.15</text>
<text x="951.6" y="1439">0.2</text>
<text x="1145.75" y="1439">0.25</text>
<text x="1339.9" y="1439">0.3</text>
<text x="1534.05" y="1439">0.35</text>
</g>
<text x="922" y="1494" text-anchor="middle" font-size="53.5" fill="#1a1a1a">Horizontal distance (m)</text>
<text transform="translate(48,1116) rotate(-90)" text-anchor="middle" font-size="52" fill="#1a1a1a">Elevation (m)</text>
<text x="772" y="1337" font-size="58" fill="#000">60<tspan font-size="40" dy="-29">o</tspan><tspan dy="29"> images</tspan></text>

<!-- ===== LEGEND ===== -->
<g font-weight="bold" font-size="41" text-anchor="middle" fill="#000">
<text x="2095" y="205">Distance from</text>
<text x="2095" y="249">camera to surface</text>
</g>
<rect x="1956" y="263" width="276" height="544" fill="#fff" stroke="#555" stroke-width="2"/>
<circle cx="2015" cy="316.5" r="7" fill="#0072BD"/>
<circle cx="2015" cy="404.3" r="7" fill="#D95319"/>
<circle cx="2015" cy="492.1" r="7" fill="#EDB120"/>
<circle cx="2015" cy="579.9" r="7" fill="#7E2F8E"/>
<circle cx="2015" cy="667.7" r="7" fill="#77AC30"/>
<circle cx="2015" cy="755.5" r="7" fill="#4DBEEE"/>
<g font-size="44" fill="#000">
<text x="2067" y="332">0.50 m</text>
<text x="2067" y="420">0.75 m</text>
<text x="2067" y="508">1.00 m</text>
<text x="2067" y="595.5">1.50 m</text>
<text x="2067" y="683">2.00 m</text>
<text x="2067" y="771">3.00 m</text>
</g>

<!-- ===== CIRCLE MAP ===== -->
<g clip-path="url(#cc)">
<rect x="1815" y="840" width="550" height="550" fill="#c2bf3c"/>
<rect x="1815" y="840" width="550" height="550" fill="url(#gCore)"/>
<rect x="1815" y="840" width="550" height="550" fill="url(#gEdge)"/>
<rect x="1815" y="840" width="550" height="550" fill="url(#gBlue)"/>
<g filter="url(#bl)">
<ellipse cx="1960" cy="1130" rx="50" ry="25" fill="#e89a38" opacity="0.5"/>
<ellipse cx="2004" cy="893" rx="18" ry="14" fill="#e0c040" opacity="0.9"/>
<ellipse cx="2086" cy="904" rx="20" ry="14" fill="#e8d040" opacity="0.9"/>
<ellipse cx="2050" cy="941" rx="12" ry="14" fill="#e0c040" opacity="0.9"/>
<ellipse cx="2256" cy="1211" rx="18" ry="14" fill="#f0e060" opacity="0.9"/>
<ellipse cx="1905" cy="1250" rx="16" ry="18" fill="#e8c040" opacity="0.9"/>
<ellipse cx="1926" cy="1006" rx="22" ry="22" fill="#e0603a" opacity="0.85"/>
<ellipse cx="1903" cy="1075" rx="22" ry="26" fill="#e67a3a" opacity="0.8"/>
<ellipse cx="2050" cy="1013" rx="36" ry="21" fill="#d8402c"/>
<ellipse cx="1982" cy="1088" rx="11" ry="16" fill="#d83030"/>
<ellipse cx="2093" cy="1163" rx="38" ry="30" fill="#e05030" opacity="0.8"/>
<ellipse cx="2043" cy="1205" rx="20" ry="26" fill="#e06a40" opacity="0.8"/>
<ellipse cx="2149" cy="1226" rx="26" ry="15" fill="#e04a50"/>
<ellipse cx="1950" cy="1262" rx="22" ry="24" fill="#d83030"/>
<ellipse cx="2032" cy="1283" rx="20" ry="17" fill="#dd4a30"/>
<ellipse cx="2220" cy="1031" rx="28" ry="10" fill="#e08a30" transform="rotate(35 2220 1031)"/>
<ellipse cx="2186" cy="1310" rx="22" ry="17" fill="#e89a40" opacity="0.8"/>
<ellipse cx="2057" cy="1307" rx="12" ry="10" fill="#e88a40" opacity="0.8"/>
</g>
<ellipse cx="2045" cy="1010" rx="16" ry="9" fill="#8a3040" opacity="0.7" filter="url(#bl2)"/>
<rect x="1815" y="840" width="550" height="550" fill="#888" filter="url(#grain)" opacity="0.35"/>
</g>
<circle cx="2089" cy="1115" r="270" fill="none" stroke="#000" stroke-width="4"/>
<line x1="1930" y1="1285" x2="2251" y2="945" stroke="#000" stroke-width="7"/>
<rect x="2251" y="888" width="54" height="57" fill="#fff" stroke="#000" stroke-width="2"/>
<text x="2278" y="931" text-anchor="middle" font-size="42" fill="#000">A'</text>
<rect x="1884" y="1285" width="46" height="58" fill="#fff" stroke="#000" stroke-width="2"/>
<text x="1907" y="1329" text-anchor="middle" font-size="42" fill="#000">A</text>
</svg>
</body></html>
